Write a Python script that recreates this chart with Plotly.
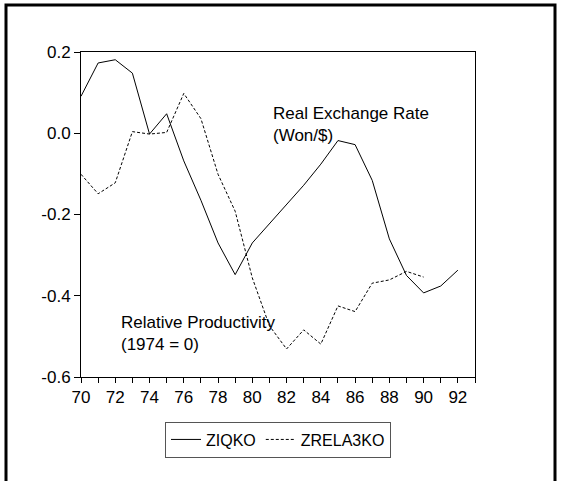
import plotly.graph_objects as go

years_ziqko = list(range(70, 93))
ziqko = [0.091, 0.173, 0.181, 0.148, -0.002, 0.048, -0.068, -0.165, -0.27, -0.348,
         -0.27, -0.222, -0.176, -0.128, -0.076, -0.018, -0.028, -0.116, -0.26, -0.35,
         -0.393, -0.376, -0.337]

years_zrela = list(range(70, 91))
zrela3ko = [-0.101, -0.149, -0.122, 0.004, -0.002, 0.002, 0.098, 0.036, -0.101, -0.192,
            -0.356, -0.474, -0.531, -0.484, -0.519, -0.425, -0.439, -0.369, -0.361, -0.34,
            -0.354]

x_tickvals = list(range(70, 93, 2))
x_ticktext = [str(v) for v in x_tickvals]
y_tickvals = [0.2, 0.0, -0.2, -0.4, -0.6]
y_ticktext = ["0.2", "0.0", "-0.2", "-0.4", "-0.6"]

FONT = "Arial, Liberation Sans, sans-serif"
FS = 17

fig = go.Figure()
fig.add_trace(go.Scatter(x=years_ziqko, y=ziqko, mode="lines", name="ZIQKO",
                         line=dict(color="black", width=1)))
fig.add_trace(go.Scatter(x=years_zrela, y=zrela3ko, mode="lines", name="ZRELA3KO",
                         line=dict(color="black", width=1, dash="3px,2px")))

fig.add_annotation(x=81.1, y=0.022, xref="x", yref="y", text="Real Exchange Rate<br>(Won/$)",
                   showarrow=False, xanchor="left", yanchor="middle", align="left",
                   font=dict(family=FONT, size=FS, color="black"))
fig.add_annotation(x=72.2, y=-0.493, xref="x", yref="y", text="Relative Productivity<br>(1974 = 0)",
                   showarrow=False, xanchor="left", yanchor="middle", align="left",
                   font=dict(family=FONT, size=FS, color="black"))

# outer frame of the figure
fig.add_shape(type="rect", xref="paper", yref="paper",
              x0=(6 - 81) / 394, x1=(555 - 81) / 394,
              y0=-0.4, y1=(377 - 5) / 325,
              line=dict(color="black", width=3), fillcolor="rgba(0,0,0,0)")

fig.update_layout(
    width=578, height=481,
    margin=dict(l=81, r=103, t=52, b=104),
    paper_bgcolor="white", plot_bgcolor="white",
    font=dict(family=FONT, size=FS, color="black"),
    showlegend=True,
    legend=dict(orientation="h", x=0.5, xanchor="center", y=-0.137, yanchor="top",
                bordercolor="#555", borderwidth=1, itemwidth=30,
                font=dict(family=FONT, size=16, color="black"),
                tracegroupgap=0),
)
fig.update_xaxes(range=[70, 93], tickvals=x_tickvals, ticktext=x_ticktext,
                 ticks="outside", ticklen=5, tickcolor="black", showgrid=False,
                 zeroline=False, showline=True, linecolor="black", linewidth=1, mirror=True,
                 minor=dict(dtick=1, tick0=70, ticks="outside", ticklen=5, tickcolor="black"),
                 tickfont=dict(family=FONT, size=FS, color="black"))
fig.update_yaxes(range=[-0.6, 0.2], tickvals=y_tickvals, ticktext=y_ticktext,
                 ticks="outside", ticklen=6, tickcolor="black", showgrid=False,
                 zeroline=False, showline=True, linecolor="black", linewidth=1, mirror=True,
                 tickfont=dict(family=FONT, size=FS, color="black"))

fig.write_html("out.html", config={"displayModeBar": False},
               post_script="document.body.style.margin='0';document.body.style.padding='0';document.body.style.overflow='hidden';")
